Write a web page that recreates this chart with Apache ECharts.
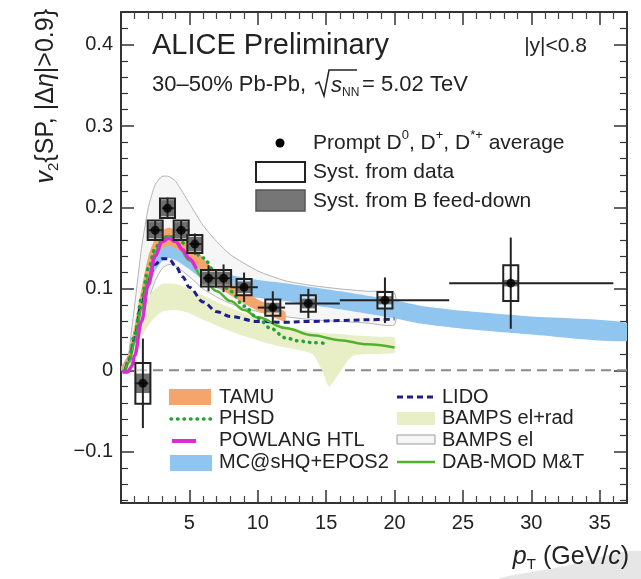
<!DOCTYPE html>
<html>
<head>
<meta charset="utf-8">
<script src="https://cdn.jsdelivr.net/npm/echarts@6/dist/echarts.min.js"></script>
<style>
  html, body { margin: 0; padding: 0; background: #fff; }
  #chart { width: 641px; height: 579px; }
</style>
</head>
<body>
<div id="chart"></div>
<script>
// ---- Measured D-meson v2 (30-50% Pb-Pb, 5.02 TeV) ----
const ptMean   = [1.6, 2.5, 3.4, 4.4, 5.4, 6.4, 7.5, 9.0, 11.1, 13.7, 19.3, 28.5];
const ptLow    = [1, 2, 3, 4, 5, 6, 7, 8, 10, 12, 16, 24];
const ptHigh   = [2, 3, 4, 5, 6, 7, 8, 10, 12, 16, 24, 36];
const v2       = [-0.016, 0.172, 0.199, 0.172, 0.155, 0.113, 0.113, 0.102, 0.077, 0.082, 0.086, 0.107];
const statErr  = [0.055, 0.012, 0.013, 0.012, 0.013, 0.016, 0.017, 0.018, 0.020, 0.018, 0.028, 0.056];
const systData = [0.025, 0.012, 0.012, 0.012, 0.011, 0.010, 0.010, 0.010, 0.010, 0.010, 0.010, 0.022];
const systFd   = [0.012, 0.010, 0.010, 0.010, 0.009, 0.008, 0.008, 0.007, 0.006, 0.006, 0.005, 0.004];

// ---- Model predictions ----
const tamuPt = [0, 0.5, 1, 1.5, 2, 2.5, 3, 3.5, 4, 5, 6, 7, 8, 9, 10, 11, 12];
const tamuLo = [0, 0.008, 0.035, 0.075, 0.11, 0.138, 0.15, 0.153, 0.15, 0.138, 0.12, 0.104, 0.092, 0.082, 0.073, 0.066, 0.06];
const tamuHi = [0.002, 0.018, 0.055, 0.1, 0.14, 0.162, 0.172, 0.175, 0.172, 0.158, 0.138, 0.12, 0.107, 0.097, 0.087, 0.079, 0.072];

const mcshqPt = [0, 0.5, 1, 1.5, 2, 2.5, 3, 3.5, 4, 5, 6, 7, 8, 10, 12, 14, 16, 20, 22, 25, 30, 37];
const mcshqLo = [0, 0.006, 0.032, 0.07, 0.1, 0.122, 0.134, 0.138, 0.135, 0.124, 0.111, 0.101, 0.095, 0.089, 0.085, 0.08, 0.075, 0.064, 0.057, 0.051, 0.044, 0.036];
const mcshqHi = [0.004, 0.018, 0.048, 0.09, 0.124, 0.148, 0.16, 0.162, 0.159, 0.146, 0.133, 0.123, 0.117, 0.111, 0.107, 0.102, 0.097, 0.086, 0.079, 0.073, 0.066, 0.058];

const bampsRadPt = [0.5, 1, 1.5, 2, 2.5, 3, 4, 5, 6, 7, 8, 9, 10, 11, 12, 13, 14, 14.7, 15.2, 15.7, 16.5, 17, 18, 19, 20];
const bampsRadLo = [0, 0.02, 0.04, 0.055, 0.065, 0.072, 0.074, 0.07, 0.062, 0.055, 0.048, 0.042, 0.037, 0.032, 0.028, 0.025, 0.02, 0.0, -0.02, -0.01, 0.01, 0.018, 0.02, 0.02, 0.022];
const bampsRadHi = [0.01, 0.04, 0.07, 0.09, 0.1, 0.106, 0.106, 0.1, 0.092, 0.084, 0.077, 0.07, 0.064, 0.058, 0.054, 0.05, 0.047, 0.046, 0.045, 0.045, 0.044, 0.043, 0.042, 0.041, 0.04];

const bampsElPt = [0.5, 1, 1.5, 2, 2.5, 3, 3.5, 4, 5, 6, 7, 8, 10, 12, 14, 16, 18, 20];
const bampsElLo = [0, 0.02, 0.05, 0.085, 0.11, 0.125, 0.13, 0.128, 0.115, 0.1, 0.09, 0.082, 0.072, 0.066, 0.062, 0.06, 0.058, 0.056];
const bampsElHi = [0.01, 0.08, 0.15, 0.2, 0.228, 0.238, 0.238, 0.232, 0.205, 0.178, 0.158, 0.142, 0.122, 0.11, 0.104, 0.1, 0.097, 0.095];

const lidoPt = [0.3, 0.6, 1, 1.5, 2, 2.5, 3, 3.5, 4, 4.5, 5, 6, 7, 8, 10, 12, 14, 16, 18, 20];
const lidoV2 = [0, 0.012, 0.04, 0.082, 0.112, 0.13, 0.137, 0.137, 0.128, 0.115, 0.102, 0.084, 0.072, 0.066, 0.06, 0.059, 0.06, 0.061, 0.062, 0.063];

const phsdPt = [0.3, 0.6, 1, 1.5, 2, 2.5, 3, 3.5, 4, 5, 6, 7, 8, 9, 10, 11, 12, 13, 14, 15];
const phsdV2 = [0, 0.015, 0.045, 0.088, 0.125, 0.15, 0.162, 0.165, 0.162, 0.152, 0.138, 0.118, 0.097, 0.079, 0.064, 0.051, 0.04, 0.036, 0.034, 0.033];

const dabPt = [0.3, 0.6, 1, 1.5, 2, 2.5, 3, 3.5, 4, 5, 6, 7, 8, 9, 10, 12, 14, 16, 18, 20];
const dabV2 = [0, 0.01, 0.035, 0.075, 0.115, 0.145, 0.162, 0.165, 0.158, 0.135, 0.113, 0.097, 0.085, 0.074, 0.065, 0.052, 0.043, 0.037, 0.032, 0.028];

const powlangPt = [0.1, 0.5, 0.8, 1, 1.5, 2, 2.5, 3, 3.5, 4, 4.5, 5, 5.5];
const powlangV2 = [-0.002, -0.002, 0.005, 0.018, 0.06, 0.105, 0.14, 0.158, 0.162, 0.158, 0.148, 0.137, 0.125];

// ---- Axes ----
const xMin = 0, xMax = 37;
const yMin = -0.163, yMax = 0.44;
const yMajorTicks = [-0.1, 0, 0.1, 0.2, 0.3, 0.4];
const yMinorTicks = [-0.16, -0.14, -0.12, -0.08, -0.06, -0.04, -0.02, 0.02, 0.04, 0.06, 0.08,
  0.12, 0.14, 0.16, 0.18, 0.22, 0.24, 0.26, 0.28, 0.32, 0.34, 0.36, 0.38, 0.42];
const zeroLineX = [0, 37];

const FONT = "'Liberation Sans', Arial, Helvetica, sans-serif";
const INK = '#222';
const boxHalfWidth = 0.55;

const COL = {
  tamu: '#f4a56c',
  mcshq: '#8fc5ef',
  bampsRad: '#e8efc6',
  bampsEl: '#f6f6f6',
  lido: '#1d1d8c',
  phsd: '#23a236',
  dab: '#52b22e',
  powlang: '#e028d8'
};

function band(name, pts, lo, hi, fill, stroke, z) {
  return {
    type: 'custom', name, silent: true, z, clip: true,
    data: pts.map((p, i) => [p, lo[i], hi[i]]),
    encode: { x: 0, y: [1, 2] },
    renderItem(params, api) {
      if (params.dataIndex !== 0) return null;
      const up = pts.map((p, i) => api.coord([p, hi[i]]));
      const dn = pts.map((p, i) => api.coord([p, lo[i]])).reverse();
      return {
        type: 'polygon',
        shape: { points: up.concat(dn), smooth: 0.2 },
        style: { fill, stroke: stroke || null, lineWidth: stroke ? 1 : 0 }
      };
    }
  };
}

function curve(name, pts, vals, color, width, dash, z, cap) {
  return {
    type: 'line', name, silent: true, z,
    data: pts.map((p, i) => [p, vals[i]]),
    symbol: 'none', showSymbol: false,
    smooth: 0.35, smoothMonotone: 'x',
    lineStyle: { color, width, type: dash || 'solid', cap: cap || 'butt' }
  };
}

function xAxisDef(pos, showLabel) {
  return {
    type: 'value', min: xMin, max: xMax, interval: 5, position: pos,
    axisLine: { show: true, onZero: false, lineStyle: { color: '#333', width: 2 } },
    axisTick: { show: true, inside: true, length: 13, lineStyle: { color: '#333', width: 1.5 } },
    minorTick: { show: true, splitNumber: 5, length: 7, lineStyle: { color: '#444', width: 1.2 } },
    splitLine: { show: false }, minorSplitLine: { show: false },
    axisLabel: {
      show: showLabel, showMaxLabel: false, showMinLabel: false,
      fontSize: 20, color: INK, fontFamily: FONT, margin: 10,
      formatter: v => (v === 0 || v === xMax ? '' : String(v))
    }
  };
}

function yAxisDef(pos, ticks, len, showLine, showLabel) {
  return {
    type: 'value', min: yMin, max: yMax, position: pos,
    axisLine: { show: showLine, onZero: false, lineStyle: { color: '#333', width: 2 } },
    axisTick: { show: true, inside: true, length: len, customValues: ticks,
      lineStyle: { color: '#333', width: showLine ? 1.5 : 1.2 } },
    splitLine: { show: false },
    axisLabel: {
      show: showLabel, customValues: ticks, fontSize: 20, color: INK, fontFamily: FONT, margin: 8,
      formatter: v => (Math.abs(v) < 1e-9 ? '0' : (v < 0 ? '\u2212' + (-v).toFixed(1) : v.toFixed(1)))
    }
  };
}

const option = {
  animation: false,
  backgroundColor: '#fff',
  grid: { left: 121, top: 12, right: 14, bottom: 76 },
  xAxis: [xAxisDef('bottom', true), xAxisDef('top', false)],
  yAxis: [
    yAxisDef('left', yMajorTicks, 13, true, true),
    yAxisDef('left', yMinorTicks, 7, false, false),
    yAxisDef('right', yMajorTicks, 13, true, false),
    yAxisDef('right', yMinorTicks, 7, false, false)
  ],
  series: [
    {
      type: 'line', name: 'zero', silent: true, z: 1,
      data: zeroLineX.map(x => [x, 0]), symbol: 'none',
      lineStyle: { color: '#8a8a8a', width: 2, type: [10, 6] }
    },
    band('BAMPS el', bampsElPt, bampsElLo, bampsElHi, COL.bampsEl, '#b4b4b4', 2),
    band('BAMPS el+rad', bampsRadPt, bampsRadLo, bampsRadHi, COL.bampsRad, null, 3),
    band('MC@sHQ+EPOS2', mcshqPt, mcshqLo, mcshqHi, COL.mcshq, null, 4),
    band('TAMU', tamuPt, tamuLo, tamuHi, COL.tamu, null, 5),
    curve('LIDO', lidoPt, lidoV2, COL.lido, 3, [6, 4], 6),
    curve('DAB-MOD M&T', dabPt, dabV2, COL.dab, 2.5, 'solid', 6),
    curve('PHSD', phsdPt, phsdV2, COL.phsd, 3.5, [0.5, 6], 7, 'round'),
    curve('POWLANG HTL', powlangPt, powlangV2, COL.powlang, 3.5, 'solid', 7),
    {
      type: 'custom', name: 'errors', silent: true, z: 9, clip: true,
      data: ptMean.map((p, i) => [p, v2[i]]),
      encode: { x: 0, y: 1 },
      renderItem(params, api) {
        const i = params.dataIndex;
        const x = ptMean[i], y = v2[i];
        const c = (a, b) => api.coord([a, b]);
        const fd0 = c(x - boxHalfWidth, y + systFd[i]);
        const fd1 = c(x + boxHalfWidth, y - systFd[i]);
        const sy0 = c(x - boxHalfWidth, y + systData[i]);
        const sy1 = c(x + boxHalfWidth, y - systData[i]);
        const hL = c(ptLow[i], y), hR = c(ptHigh[i], y);
        const vT = c(x, y + statErr[i]), vB = c(x, y - statErr[i]);
        return {
          type: 'group',
          children: [
            { type: 'rect', shape: { x: sy0[0], y: sy0[1], width: sy1[0] - sy0[0], height: sy1[1] - sy0[1] },
              style: { fill: 'rgba(255,255,255,0.55)', stroke: null } },
            { type: 'rect', shape: { x: fd0[0], y: fd0[1], width: fd1[0] - fd0[0], height: fd1[1] - fd0[1] },
              style: { fill: '#6e6e6e', stroke: null } },
            { type: 'rect', shape: { x: sy0[0], y: sy0[1], width: sy1[0] - sy0[0], height: sy1[1] - sy0[1] },
              style: { fill: null, stroke: '#222', lineWidth: 2 } },
            { type: 'line', shape: { x1: hL[0], y1: hL[1], x2: hR[0], y2: hR[1] },
              style: { stroke: '#222', lineWidth: 2 } },
            { type: 'line', shape: { x1: vT[0], y1: vT[1], x2: vB[0], y2: vB[1] },
              style: { stroke: '#222', lineWidth: 2 } }
          ]
        };
      }
    },
    {
      type: 'scatter', name: 'Prompt D average', silent: true, z: 10,
      data: ptMean.map((p, i) => [p, v2[i]]),
      symbol: 'circle', symbolSize: 9,
      itemStyle: { color: '#000' }
    }
  ],
  graphic: {
    elements: [
      // corner decoration
      { type: 'polygon', silent: true, z: -1,
        shape: { points: [[500, 579], [560, 567], [641, 551], [641, 579]], smooth: 0.3 },
        style: { fill: '#e6e6e6' } },

      // header texts
      { type: 'text', x: 152, y: 46, z: 20,
        style: { text: 'ALICE Preliminary', font: '29px ' + FONT, fill: INK, verticalAlign: 'middle' } },
      { type: 'text', x: 152, y: 85, z: 20,
        style: { text: '30\u201350% Pb-Pb,', font: '22px ' + FONT, fill: INK, verticalAlign: 'middle' } },
      { type: 'polyline', z: 20,
        shape: { points: [[315, 84], [319, 82], [324, 96], [329, 70], [357, 70]] },
        style: { stroke: INK, lineWidth: 1.5, fill: null } },
      { type: 'text', x: 331, y: 86, z: 20,
        style: { text: 's', font: 'italic 22px ' + FONT, fill: INK, verticalAlign: 'middle' } },
      { type: 'text', x: 342, y: 93, z: 20,
        style: { text: 'NN', font: '12px ' + FONT, fill: INK, verticalAlign: 'middle' } },
      { type: 'text', x: 362, y: 85, z: 20,
        style: { text: '= 5.02 TeV', font: '22px ' + FONT, fill: INK, verticalAlign: 'middle' } },
      { type: 'text', x: 587, y: 46, z: 20,
        style: { text: '|y|<0.8', font: '21px ' + FONT, fill: INK, align: 'right', verticalAlign: 'middle' } },

      // data legend
      { type: 'circle', z: 20, shape: { cx: 280, cy: 143, r: 4.5 }, style: { fill: '#000' } },
      { type: 'text', x: 313, y: 143, z: 20,
        style: {
          text: 'Prompt D{sup|0}, D{sup|+}, D{sup|*+} average',
          font: '21px ' + FONT, fill: INK, verticalAlign: 'middle', lineHeight: 28,
          rich: { sup: { fontSize: 13, fontFamily: FONT, fill: INK, verticalAlign: 'top', lineHeight: 14 } }
        } },
      { type: 'rect', z: 20, shape: { x: 256, y: 162, width: 49, height: 20 },
        style: { fill: '#fff', stroke: '#222', lineWidth: 2 } },
      { type: 'text', x: 313, y: 172, z: 20,
        style: { text: 'Syst. from data', font: '21px ' + FONT, fill: INK, verticalAlign: 'middle' } },
      { type: 'rect', z: 20, shape: { x: 256, y: 190, width: 49, height: 21 },
        style: { fill: '#767676', stroke: '#555', lineWidth: 1.5 } },
      { type: 'text', x: 313, y: 201, z: 20,
        style: { text: 'Syst. from B feed-down', font: '21px ' + FONT, fill: INK, verticalAlign: 'middle' } },

      // model legend, left column
      { type: 'rect', z: 20, shape: { x: 169, y: 389, width: 42, height: 16 }, style: { fill: COL.tamu } },
      { type: 'text', x: 219, y: 397, z: 20,
        style: { text: 'TAMU', font: '20px ' + FONT, fill: INK, verticalAlign: 'middle' } },
      { type: 'line', z: 20, shape: { x1: 171, y1: 419, x2: 211, y2: 419 },
        style: { stroke: COL.phsd, lineWidth: 3.5, lineDash: [0.5, 6], lineCap: 'round' } },
      { type: 'text', x: 219, y: 418, z: 20,
        style: { text: 'PHSD', font: '20px ' + FONT, fill: INK, verticalAlign: 'middle' } },
      { type: 'line', z: 20, shape: { x1: 172, y1: 441, x2: 196, y2: 441 },
        style: { stroke: COL.powlang, lineWidth: 4 } },
      { type: 'text', x: 219, y: 440, z: 20,
        style: { text: 'POWLANG HTL', font: '20px ' + FONT, fill: INK, verticalAlign: 'middle' } },
      { type: 'rect', z: 20, shape: { x: 170, y: 455, width: 42, height: 16 }, style: { fill: COL.mcshq } },
      { type: 'text', x: 219, y: 462, z: 20,
        style: { text: 'MC@sHQ+EPOS2', font: '20px ' + FONT, fill: INK, verticalAlign: 'middle' } },

      // model legend, right column
      { type: 'line', z: 20, shape: { x1: 397, y1: 397, x2: 435, y2: 397 },
        style: { stroke: COL.lido, lineWidth: 3, lineDash: [6, 4] } },
      { type: 'text', x: 442, y: 397, z: 20,
        style: { text: 'LIDO', font: '20px ' + FONT, fill: INK, verticalAlign: 'middle' } },
      { type: 'rect', z: 20, shape: { x: 397, y: 412, width: 38, height: 13 }, style: { fill: COL.bampsRad } },
      { type: 'text', x: 442, y: 418, z: 20,
        style: { text: 'BAMPS el+rad', font: '20px ' + FONT, fill: INK, verticalAlign: 'middle' } },
      { type: 'rect', z: 20, shape: { x: 397, y: 435, width: 38, height: 9 },
        style: { fill: COL.bampsEl, stroke: '#9a9a9a', lineWidth: 1 } },
      { type: 'text', x: 442, y: 440, z: 20,
        style: { text: 'BAMPS el', font: '20px ' + FONT, fill: INK, verticalAlign: 'middle' } },
      { type: 'line', z: 20, shape: { x1: 397, y1: 462, x2: 435, y2: 462 },
        style: { stroke: COL.dab, lineWidth: 2.5 } },
      { type: 'text', x: 442, y: 462, z: 20,
        style: { text: 'DAB-MOD M&T', font: '20px ' + FONT, fill: INK, verticalAlign: 'middle' } },

      // axis titles
      { type: 'text', x: 46, y: 9, rotation: Math.PI / 2, z: 20,
        style: {
          text: '{it|v}{sub|2}{SP, |\u0394{it|\u03b7}|>0.9}',
          font: '25px ' + FONT, fill: INK, align: 'right', verticalAlign: 'middle', lineHeight: 30,
          rich: {
            it: { fontStyle: 'italic', fontSize: 25, fontFamily: FONT, fill: INK, lineHeight: 30 },
            sub: { fontSize: 15, fontFamily: FONT, fill: INK, verticalAlign: 'bottom', lineHeight: 17 }
          }
        } },
      { type: 'text', x: 629, y: 557, z: 20,
        style: {
          text: '{it|p}{sub|T} (GeV/{it|c})',
          font: '25px ' + FONT, fill: INK, align: 'right', verticalAlign: 'middle', lineHeight: 30,
          rich: {
            it: { fontStyle: 'italic', fontSize: 25, fontFamily: FONT, fill: INK, lineHeight: 30 },
            sub: { fontSize: 15, fontFamily: FONT, fill: INK, verticalAlign: 'bottom', lineHeight: 17 }
          }
        } }
    ]
  }
};

const chart = echarts.init(document.getElementById('chart'), null, { renderer: 'canvas' });
chart.setOption(option);
</script>
</body>
</html>
